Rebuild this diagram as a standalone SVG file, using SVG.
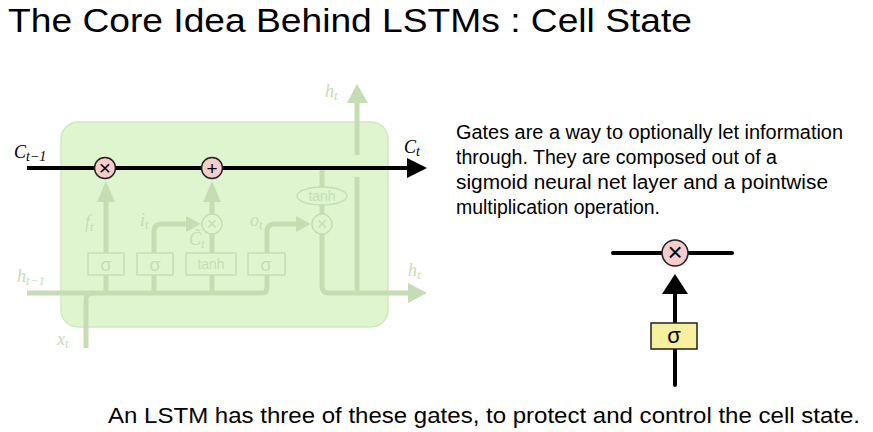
<svg xmlns="http://www.w3.org/2000/svg" width="873" height="432" viewBox="0 0 873 432">
<defs>
<style>
.txt{font-family:"Liberation Sans",Arial,sans-serif;fill:#000}
.math{font-family:"Liberation Serif","Times New Roman",serif;font-style:italic}
.fade{fill:none;stroke:#c6ddb4;stroke-width:5;stroke-linecap:butt}
.fadebox{fill:#dff5d0;stroke:#c6ddb4;stroke-width:1.5}
.fadetxt{fill:#c6ddb4}
.black{fill:none;stroke:#000;stroke-width:4}
.op{fill:#f7cccc;stroke:#222;stroke-width:1.5}
</style>
</defs>
<rect width="873" height="432" fill="#fff"/>
<text class="txt" x="8" y="32" font-size="33" textLength="684" lengthAdjust="spacingAndGlyphs">The Core Idea Behind LSTMs : Cell State</text>

<g id="lstm-cell">
<rect x="61" y="122" width="327" height="205" rx="17" fill="#dff5d0" stroke="#cfeabf" stroke-width="1.5"/>
</g>

<g id="faded-connectors">
<path class="fade" d="M27,293 H262 Q267,293 267,288 V232 Q267,224 275,224 H296" />
<path d="M296,216 L311,224 L296,232 z" fill="#c6ddb4"/>
<path class="fade" d="M86,348 V300 Q86,293 93,293"/>
<path class="fade" d="M106,293 V200"/>
<path d="M97,202 L106,181 L115,202 z" fill="#c6ddb4"/>
<path class="fade" d="M154,293 V232 Q154,224 162,224 H186"/>
<path d="M186,216 L201,224 L186,232 z" fill="#c6ddb4"/>
<path class="fade" d="M212,293 V234"/>
<path class="fade" d="M212,214 V200"/>
<path d="M203,202 L212,181 L221,202 z" fill="#c6ddb4"/>
<path class="fade" d="M322,168 V286 Q322,293 329,293 H410"/>
<path d="M408,283 L427,293 L408,303 z" fill="#c6ddb4"/>
<path class="fade" d="M357,293 V177"/>
<path class="fade" d="M357,155 V102"/>
<path d="M347,103 L357,84 L368,103 z" fill="#c6ddb4"/>
</g>

<g id="gate-sigma-f"><rect class="fadebox" x="88" y="253" width="36" height="22"/><text x="106" y="271" text-anchor="middle" font-family="Liberation Sans,sans-serif" font-size="18" class="fadetxt">σ</text></g>
<g id="gate-sigma-i"><rect class="fadebox" x="137" y="253" width="36" height="22"/><text x="155" y="271" text-anchor="middle" font-family="Liberation Sans,sans-serif" font-size="18" class="fadetxt">σ</text></g>
<g id="gate-tanh"><rect class="fadebox" x="186" y="253" width="50" height="22"/><text x="211" y="269" text-anchor="middle" font-family="Liberation Sans,sans-serif" font-size="14" class="fadetxt">tanh</text></g>
<g id="gate-sigma-o"><rect class="fadebox" x="248" y="253" width="37" height="22"/><text x="266" y="271" text-anchor="middle" font-family="Liberation Sans,sans-serif" font-size="18" class="fadetxt">σ</text></g>
<g id="op-mul-i"><circle cx="212" cy="224" r="10" class="fadebox"/><text x="212" y="230" text-anchor="middle" font-family="Liberation Sans,sans-serif" font-size="18" class="fadetxt">×</text></g>
<g id="op-mul-o"><circle cx="322" cy="224" r="10" class="fadebox"/><text x="322" y="230" text-anchor="middle" font-family="Liberation Sans,sans-serif" font-size="18" class="fadetxt">×</text></g>
<g id="op-tanh"><ellipse cx="322" cy="196" rx="25" ry="9" class="fadebox"/><text x="322" y="201" text-anchor="middle" font-family="Liberation Sans,sans-serif" font-size="14" class="fadetxt">tanh</text></g>

<g id="faded-labels" class="fadetxt" font-family="Liberation Serif,serif" font-style="italic">
<text x="85" y="228" font-size="18">f<tspan font-size="13" dy="3">t</tspan></text>
<text x="140" y="226" font-size="18">i<tspan font-size="13" dy="3">t</tspan></text>
<text x="189" y="245" font-size="18">C̃<tspan font-size="13" dy="3">t</tspan></text>
<text x="250" y="226" font-size="18">o<tspan font-size="13" dy="3">t</tspan></text>
<text x="17" y="282" font-size="18">h<tspan font-size="13" dy="3">t−1</tspan></text>
<text x="408" y="276" font-size="18">h<tspan font-size="13" dy="3">t</tspan></text>
<text x="325" y="97" font-size="18">h<tspan font-size="13" dy="3">t</tspan></text>
<text x="57" y="345" font-size="18">x<tspan font-size="13" dy="3">t</tspan></text>
</g>

<g id="cell-state">
<path class="black" d="M27,168 H409"/>
<path d="M407,158 L427,168 L407,178 z" fill="#000"/>
<text x="14" y="158" font-size="18" class="math">C<tspan font-size="14" dy="3">t−1</tspan></text>
<text x="404" y="153" font-size="18" class="math">C<tspan font-size="14" dy="3">t</tspan></text>
</g>
<g id="op-mul-f"><circle cx="105" cy="168" r="10.5" class="op"/><text x="105" y="175" text-anchor="middle" font-family="Liberation Sans,sans-serif" font-size="21">×</text></g>
<g id="op-add"><circle cx="212" cy="168" r="10.5" class="op"/><text x="212" y="175" text-anchor="middle" font-family="Liberation Sans,sans-serif" font-size="19">+</text></g>

<g class="txt" font-size="20">
<text x="456" y="139" textLength="387" lengthAdjust="spacingAndGlyphs">Gates are a way to optionally let information</text>
<text x="456" y="164" textLength="321" lengthAdjust="spacingAndGlyphs">through. They are composed out of a</text>
<text x="456" y="189" textLength="372" lengthAdjust="spacingAndGlyphs">sigmoid neural net layer and a pointwise</text>
<text x="456" y="214" textLength="204" lengthAdjust="spacingAndGlyphs">multiplication operation.</text>
</g>

<g id="gate-example">
<path class="black" d="M613,253 H732" stroke-linecap="round"/>
<path class="black" d="M675,385 V292" stroke-linecap="round"/>
<path d="M662,294 L675,274 L688,294 z" fill="#000"/>
<rect x="651" y="323" width="46" height="26" fill="#f7f09e" stroke="#222" stroke-width="1.5"/>
<text x="674" y="343" text-anchor="middle" font-family="Liberation Sans,sans-serif" font-size="22">σ</text>
<circle cx="675" cy="253" r="13" class="op"/>
<text x="675" y="261" text-anchor="middle" font-family="Liberation Sans,sans-serif" font-size="26">×</text>
</g>

<text class="txt" x="108" y="423" font-size="22" textLength="752" lengthAdjust="spacingAndGlyphs">An LSTM has three of these gates, to protect and control the cell state.</text>
</svg>
